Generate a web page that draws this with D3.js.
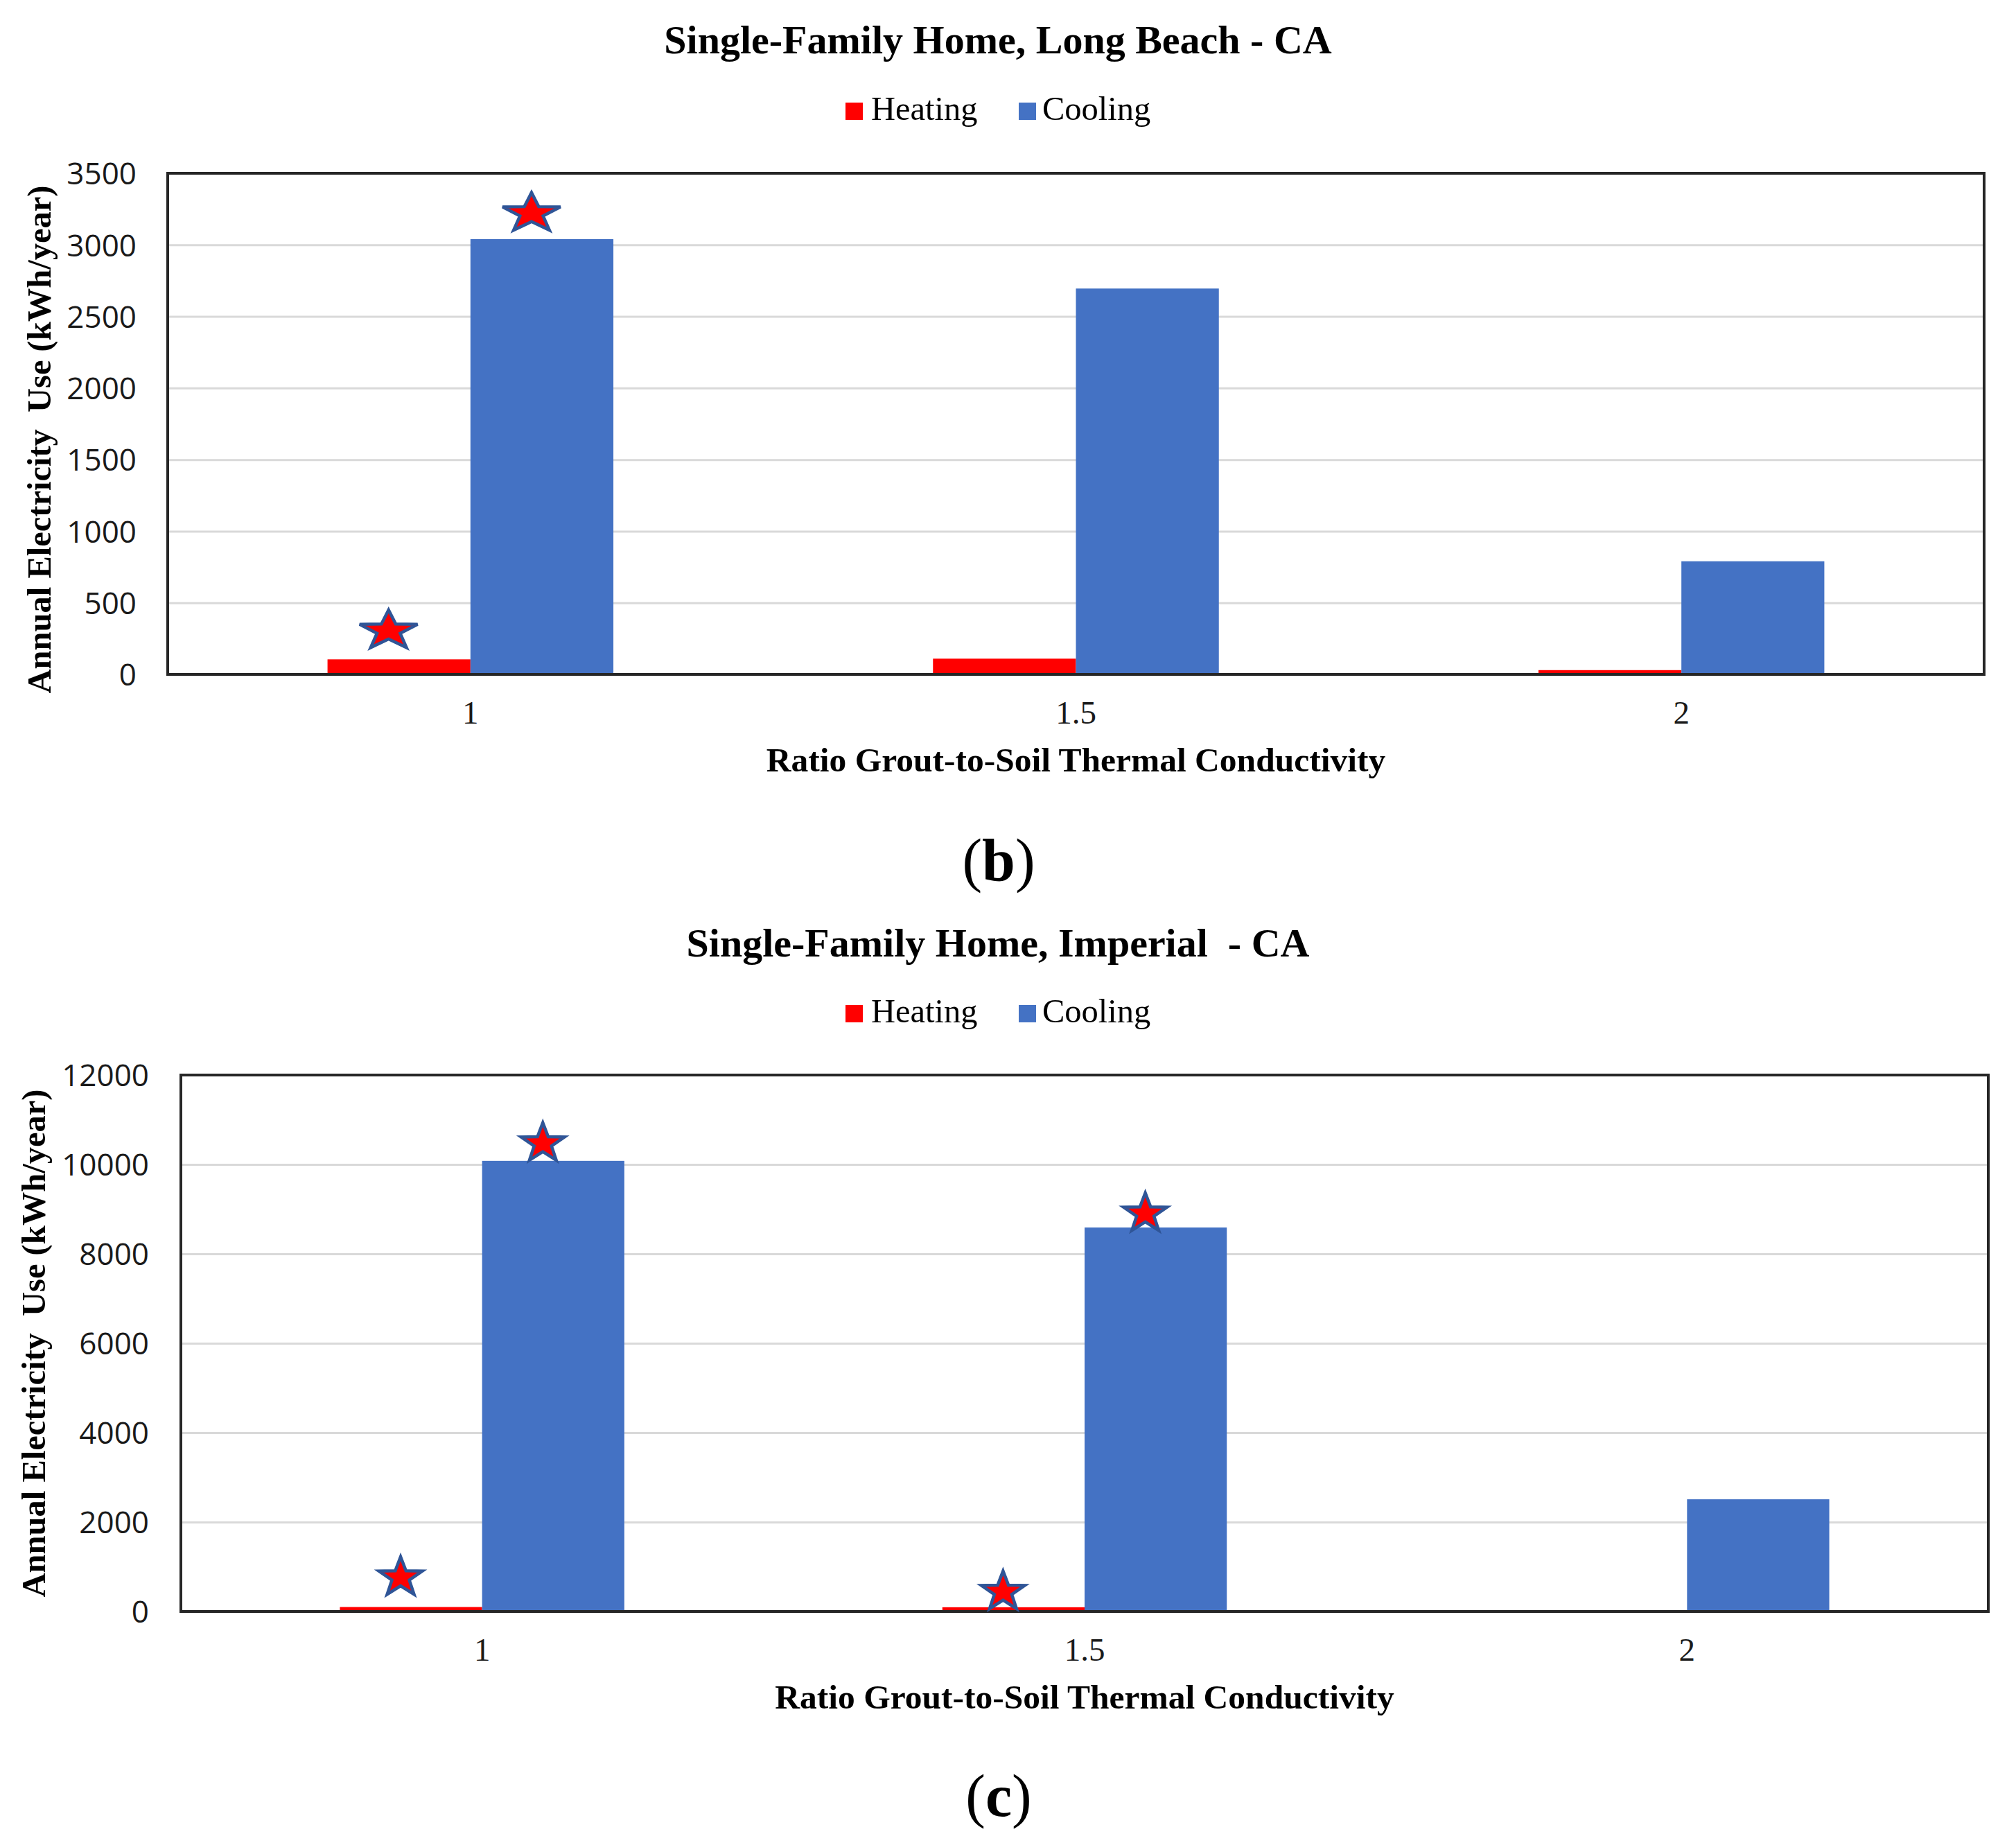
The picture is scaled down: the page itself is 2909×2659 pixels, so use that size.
<!DOCTYPE html>
<html>
<head>
<meta charset="utf-8">
<script src="https://cdn.jsdelivr.net/npm/d3@7"></script>
<style>
  html, body { margin: 0; padding: 0; background: #fff; }
  svg { display: block; }
</style>
</head>
<body>
<svg id="chart" width="2909" height="2659"></svg>
<script>
// ---------------- data ----------------
const categories = ["1", "1.5", "2"];
const series = ["Heating", "Cooling"];

const longBeachTitle = "Single-Family Home, Long Beach - CA";
const longBeachHeating = [105, 110, 30];
const longBeachCooling = [3040, 2695, 790];
const longBeachTicks = [0, 500, 1000, 1500, 2000, 2500, 3000, 3500];
const longBeachStars = [
  { category: "1", series: "Heating", value: 305 },
  { category: "1", series: "Cooling", value: 3220 }
];

const imperialTitle = "Single-Family Home, Imperial  - CA";
const imperialHeating = [100, 95, 0];
const imperialCooling = [10080, 8590, 2510];
const imperialTicks = [0, 2000, 4000, 6000, 8000, 10000, 12000];
const imperialStars = [
  { category: "1", series: "Heating", value: 760 },
  { category: "1", series: "Cooling", value: 10470 },
  { category: "1.5", series: "Heating", value: 440 },
  { category: "1.5", series: "Cooling", value: 8900 }
];

const yAxisTitle = "Annual Electricity  Use (kWh/year)";
const xAxisTitle = "Ratio Grout-to-Soil Thermal Conductivity";

// ---------------- style ----------------
const colors = { Heating: "#FF0000", Cooling: "#4472C4" };
const SERIF = "'Liberation Serif', 'Times New Roman', serif";
const SANS = "'Open Sans', 'Noto Sans', sans-serif";

const svg = d3.select("#chart");
svg.append("rect").attr("width", 2909).attr("height", 2659).attr("fill", "#fff");

function starPath(rx, ry) {
  const pts = [];
  const inner = 0.40;
  for (let i = 0; i < 10; i++) {
    const a = -Math.PI / 2 + i * Math.PI / 5;
    const r = i % 2 === 0 ? 1 : inner;
    pts.push([Math.cos(a) * r * rx, Math.sin(a) * r * ry]);
  }
  return "M" + pts.map(p => p[0].toFixed(2) + "," + p[1].toFixed(2)).join("L") + "Z";
}

function drawChart(cfg) {
  const { title, heating, cooling, ticks, stars, box, layout } = cfg;
  const g = svg.append("g");
  const w = box.right - box.left;

  const rows = categories.map((c, i) => ({ category: c, Heating: heating[i], Cooling: cooling[i] }));

  const x0 = d3.scaleBand().domain(categories).range([box.left, box.right]).padding(0);
  const x1 = d3.scaleBand().domain(series).range([0, x0.bandwidth()]).paddingInner(0).paddingOuter(1.118);
  const y = d3.scaleLinear().domain([ticks[0], ticks[ticks.length - 1]]).range([box.bottom, box.top]);

  // title
  g.append("text")
    .attr("x", 1440)
    .attr("y", layout.titleY)
    .attr("text-anchor", "middle")
    .style("white-space", "pre")
    .attr("font-family", SERIF).attr("font-weight", "bold").attr("font-size", 58)
    .text(title);

  // legend
  const legendItems = [
    { name: "Heating", sx: 1220, tx: 1257 },
    { name: "Cooling", sx: 1470, tx: 1504 }
  ];
  const lg = g.append("g");
  lg.selectAll("rect").data(legendItems).join("rect")
    .attr("x", d => d.sx).attr("y", layout.legendY - 25)
    .attr("width", 25).attr("height", 25)
    .attr("fill", d => colors[d.name]);
  lg.selectAll("text").data(legendItems).join("text")
    .attr("x", d => d.tx).attr("y", layout.legendY)
    .attr("font-family", SERIF).attr("font-size", 48.5)
    .text(d => d.name);

  // gridlines
  g.append("g")
    .attr("transform", `translate(${box.left},0)`)
    .call(d3.axisLeft(y).tickValues(ticks.slice(1, -1)).tickSize(-w).tickFormat(""))
    .call(a => a.select(".domain").remove())
    .call(a => a.selectAll("line").attr("stroke", "#D9D9D9").attr("stroke-width", 3));

  // y tick labels
  g.append("g")
    .attr("transform", `translate(${box.left},0)`)
    .call(d3.axisLeft(y).tickValues(ticks).tickSize(0).tickPadding(layout.tickPad).tickFormat(d3.format("d")))
    .call(a => a.select(".domain").remove())
    .call(a => a.selectAll("text")
      .attr("font-family", SANS).attr("font-size", 44).attr("fill", "#1a1a1a")
      .attr("dy", "0.36em"));

  // bars
  g.append("g").selectAll("g").data(rows).join("g")
    .attr("transform", d => `translate(${x0(d.category)},0)`)
    .selectAll("rect")
    .data(d => series.map(s => ({ s, v: d[s] })))
    .join("rect")
    .attr("x", d => x1(d.s))
    .attr("width", x1.bandwidth())
    .attr("y", d => y(d.v))
    .attr("height", d => y(0) - y(d.v))
    .attr("fill", d => colors[d.s]);

  // frame
  g.append("rect")
    .attr("x", box.left).attr("y", box.top)
    .attr("width", w).attr("height", box.bottom - box.top)
    .attr("fill", "none").attr("stroke", "#262626").attr("stroke-width", 4);

  // stars
  const sp = starPath(layout.starRx, 30);
  g.append("g").selectAll("path").data(stars).join("path")
    .attr("d", sp)
    .attr("transform", d => `translate(${x0(d.category) + x1(d.series) + x1.bandwidth() / 2 - 15},${y(d.value)})`)
    .attr("fill", "#FF0000")
    .attr("stroke", "#2F5597")
    .attr("stroke-width", 4.5)
    .attr("stroke-linejoin", "miter");

  // x axis labels
  g.append("g")
    .attr("transform", `translate(0,${box.bottom})`)
    .call(d3.axisBottom(x0).tickSize(0))
    .call(a => a.select(".domain").remove())
    .call(a => a.selectAll("text")
      .attr("y", 71).attr("dy", 0)
      .attr("font-family", SERIF).attr("font-size", 47).attr("fill", "#1a1a1a"));

  // x axis title
  g.append("text")
    .attr("x", (box.left + box.right) / 2)
    .attr("y", box.bottom + 140)
    .attr("text-anchor", "middle")
    .attr("font-family", SERIF).attr("font-weight", "bold").attr("font-size", 49.5)
    .text(xAxisTitle);

  // y axis title
  g.append("text")
    .attr("transform", `translate(${layout.yTitleX},${layout.yTitleY}) rotate(-90)`)
    .attr("text-anchor", "middle")
    .style("white-space", "pre")
    .attr("font-family", SERIF).attr("font-weight", "bold").attr("font-size", 48.5)
    .text(yAxisTitle);

  // panel label
  const pl = g.append("text")
    .attr("x", 1441).attr("y", layout.panelY)
    .attr("text-anchor", "middle")
    .attr("font-family", SERIF).attr("font-size", 86);
  pl.append("tspan").text("(");
  pl.append("tspan").attr("font-weight", "bold").text(cfg.panel);
  pl.append("tspan").text(")");
}

drawChart({
  title: longBeachTitle,
  heating: longBeachHeating,
  cooling: longBeachCooling,
  ticks: longBeachTicks,
  stars: longBeachStars,
  panel: "b",
  box: { left: 242, right: 2863, top: 250, bottom: 973 },
  layout: { titleY: 77, legendY: 173, tickPad: 45, yTitleX: 73, yTitleY: 634, panelY: 1270, starRx: 44 }
});

drawChart({
  title: imperialTitle,
  heating: imperialHeating,
  cooling: imperialCooling,
  ticks: imperialTicks,
  stars: imperialStars,
  panel: "c",
  box: { left: 261, right: 2869, top: 1551, bottom: 2325 },
  layout: { titleY: 1380, legendY: 1475, tickPad: 46, yTitleX: 65, yTitleY: 1938, panelY: 2620, starRx: 33 }
});
</script>
</body>
</html>
